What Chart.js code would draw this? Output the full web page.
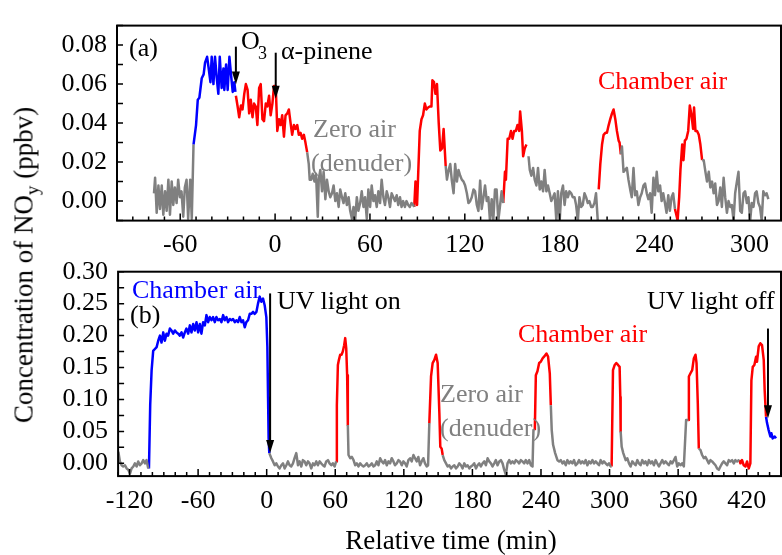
<!DOCTYPE html>
<html>
<head>
<meta charset="utf-8">
<script src="https://cdn.jsdelivr.net/npm/chart.js@4.4.0/dist/chart.umd.min.js"></script>
<style>
html, body { margin: 0; padding: 0; background: #fff; overflow: hidden; }
#wrap { position: relative; width: 782px; height: 555px; overflow: hidden; background: #fff; }
canvas { position: absolute; left: 0; }
.t { position: absolute; font-family: "Liberation Serif", "Times New Roman", serif; font-size: 26px; line-height: 26px; white-space: nowrap; color: #000; }
.gray { color: #808080; }
.red { color: #ff0000; }
.blue { color: #0000ff; }
.title { font-size: 27px; line-height: 27px; }
#ytitle sub { font-size: 19px; line-height: 0; vertical-align: -6px; }
</style>
</head>
<body>
<div id="wrap">
  <canvas id="chartA" width="790" height="262" style="top:0"></canvas>
  <canvas id="chartB" width="790" height="315" style="top:240px"></canvas>

  <div class="t" style="left:129px;top:35px">(a)</div>
  <div class="t" style="left:241px;top:28px">O</div>
  <div class="t" style="left:258px;top:44px;font-size:18px;line-height:18px">3</div>
  <div class="t" style="left:281px;top:38px">α-pinene</div>
  <div class="t gray" style="left:313px;top:116px">Zero air</div>
  <div class="t gray" style="left:311px;top:150px">(denuder)</div>
  <div class="t red" style="left:598px;top:68px">Chamber air</div>

  <div class="t blue" style="left:132px;top:277px">Chamber air</div>
  <div class="t" style="left:130px;top:302px">(b)</div>
  <div class="t" style="left:277px;top:288px">UV light on</div>
  <div class="t" style="left:647px;top:288px">UV light off</div>
  <div class="t red" style="left:518px;top:321px">Chamber air</div>
  <div class="t gray" style="left:440px;top:381px">Zero air</div>
  <div class="t gray" style="left:440px;top:415px">(denuder)</div>

  <div class="t title" style="left:451px;top:527px;transform:translateX(-50%)">Relative time (min)</div>
  <div class="t title" id="ytitle" style="left:24px;top:265px;transform:translate(-50%,-50%) rotate(-90deg)">Concentration of NO<sub>y</sub> (ppbv)</div>
</div>

<script>
// ---- data: [time (min), NOy (ppbv)] ----

// panel (a)
const zeroAirA = [
  [[-76.6,0.004],[-75.9,0.012],[-74.9,-0.006],[-73.8,0.008],[-72.8,-0.004],[-71.7,0.008],[-70.7,-0.007],[-69.6,0.005],[-68.6,-0.005],[-67.5,0.011],[-66.5,-0.007],[-65.4,0.010],[-64.4,-0.002],[-63.4,0.007],[-62.3,-0.001],[-61.3,0.011],[-60.2,0.002],[-59.2,0.005],[-58.1,-0.008],[-57.1,0.007],[-56.0,0.011],[-55.0,-0.009],[-53.7,0.011],[-52.7,-0.009],[-51.6,0.029]],
  [[20.3,0.025],[21.3,0.019],[21.9,0.011],[22.8,0.011],[23.8,0.014],[24.9,0.010],[25.9,0.014],[27.0,-0.008],[27.6,0.011],[28.6,0.016],[29.7,0.005],[30.7,0.015],[31.8,0.001],[32.8,0.011],[33.9,0.005],[34.9,0.002],[36.0,0.004],[37.0,0.008],[38.1,0.000],[39.1,0.004],[40.2,-0.003],[41.2,0.006],[42.3,0.002],[43.3,-0.001],[44.4,0.004],[45.4,-0.002],[46.5,0.002],[47.5,-0.005],[48.6,-0.009],[49.6,-0.003],[50.6,-0.010],[51.7,0.002],[52.7,-0.005],[53.8,-0.001],[54.8,0.005],[55.9,-0.003],[56.9,0.002],[58.0,-0.009],[59.0,0.006],[60.1,-0.003],[61.1,0.008],[62.2,0.000],[63.2,0.003],[64.3,-0.003],[65.3,0.005],[66.4,-0.001],[67.4,0.011],[68.5,0.002],[69.5,-0.002],[70.6,0.005],[71.6,0.002],[72.7,-0.003],[73.7,0.004],[74.8,0.002],[75.8,0.000],[76.9,0.003],[77.9,-0.002],[79.0,0.002],[80.0,-0.003],[81.0,0.000],[82.1,-0.003],[83.1,0.000],[84.2,-0.002],[85.2,-0.003],[86.3,-0.001],[87.3,-0.002],[88.0,-0.003]],
  [[107.9,0.018],[108.7,0.011],[109.8,0.016],[110.8,0.019],[111.8,0.0105],[112.9,0.004],[113.9,0.019],[115.0,0.010],[116.0,0.016],[117.1,0.013],[118.1,0.011],[119.2,0.010],[120.2,0.008],[121.3,0.004],[122.3,-0.001],[123.4,0.000],[124.4,0.002],[125.5,0.006],[126.5,0.005],[127.6,-0.002],[128.6,-0.005],[129.7,0.0105],[130.7,-0.004],[131.8,0.002],[132.8,0.008],[133.9,0.000],[134.9,0.002],[135.9,-0.010],[137.0,0.001],[138.0,-0.010],[139.1,0.006],[140.1,0.006],[141.2,-0.010],[142.2,-0.003],[143.3,0.005],[144.3,-0.001]],
  [[160.3,0.023],[161.1,0.016],[162.1,0.013],[163.2,0.017],[164.2,0.011],[165.3,0.008],[166.3,0.017],[167.4,0.006],[168.4,0.010],[169.5,0.005],[170.5,0.016],[171.6,0.005],[172.6,0.008],[173.7,0.004],[174.7,0.000],[175.8,0.002],[176.8,0.004],[177.9,-0.010],[178.9,0.005],[180.0,-0.010],[181.0,0.004],[182.1,0.008],[183.1,-0.002],[184.1,0.005],[185.2,0.002],[186.2,0.005],[187.3,0.004],[188.3,0.002],[189.4,0.002],[190.4,-0.002],[191.5,-0.010],[192.5,0.002],[193.6,-0.003],[194.6,-0.002],[195.7,0.004],[196.7,0.002],[197.8,-0.001],[198.8,0.000],[199.9,-0.003],[200.9,-0.003],[202.0,-0.001],[203.0,0.004],[204.1,-0.010]],
  [[218.7,0.024],[219.4,0.028],[220.4,0.015],[221.4,0.016],[222.5,0.017],[223.5,0.011],[224.6,0.006],[225.6,0.002],[226.7,0.017],[227.7,0.003],[228.8,0.005],[229.8,-0.002],[230.9,0.002],[231.9,0.004],[233.0,0.008],[234.0,0.009],[235.1,0.004],[236.1,0.001],[237.2,0.004],[238.2,-0.006],[239.3,0.012],[240.3,0.003],[241.4,0.015],[242.4,0.005],[243.5,0.008],[244.5,0.000],[245.5,0.004],[246.6,-0.001],[247.6,-0.006],[248.7,0.003],[249.7,-0.005],[250.8,0.002],[251.8,0.004],[252.9,-0.004]],
  [[270.1,0.021],[271.1,0.021],[272.2,0.015],[273.2,0.010],[274.3,0.015],[275.3,0.007],[276.4,0.010],[277.4,0.004],[278.4,0.009],[279.5,-0.002],[280.5,0.000],[281.6,0.007],[282.6,-0.003],[283.7,0.012],[284.7,0.002],[285.8,-0.006],[286.8,0.000],[287.9,-0.003],[288.9,-0.002],[290.0,-0.010],[291.0,0.004],[292.1,0.010],[293.1,0.015],[294.2,-0.005],[295.2,-0.006],[296.3,0.004],[297.3,0.005],[298.4,-0.001],[299.4,0.002],[300.5,-0.010],[301.5,-0.001],[302.6,-0.003],[303.6,0.004],[304.6,0.005],[305.7,-0.001],[306.7,-0.003],[307.8,-0.010],[308.8,0.005],[309.9,0.003],[310.9,0.004],[312.0,0.001]]
];
const chamberO3A = [
  [[-51.6,0.029],[-50.0,0.039],[-48.9,0.052],[-47.9,0.053],[-46.4,0.063],[-45.2,0.065],[-44.3,0.071],[-43.0,0.074],[-42.0,0.068],[-40.9,0.061],[-40.1,0.074],[-39.0,0.060],[-38.0,0.074],[-36.9,0.063],[-35.9,0.055],[-35.0,0.074],[-33.8,0.058],[-32.7,0.068],[-32.1,0.057],[-31.0,0.070],[-30.0,0.057],[-28.9,0.074],[-27.9,0.065],[-26.8,0.056],[-25.8,0.061],[-25.1,0.056]]
];
const chamberA = [
  [[-24.8,0.054],[-23.7,0.0485],[-22.7,0.043],[-21.6,0.049],[-20.6,0.047],[-19.5,0.055],[-18.5,0.060],[-17.4,0.057],[-16.4,0.045],[-15.4,0.052],[-14.3,0.043],[-13.3,0.050],[-12.2,0.0485],[-11.2,0.039],[-10.1,0.058],[-9.1,0.060],[-8.0,0.042],[-7.0,0.041],[-5.9,0.050],[-4.9,0.0485],[-3.8,0.054],[-2.8,0.044],[-1.7,0.050],[-0.7,0.059],[0.4,0.059],[1.4,0.036],[2.5,0.042],[3.5,0.039],[4.5,0.044],[5.6,0.033],[6.6,0.044],[7.7,0.045],[8.7,0.047],[9.8,0.040],[10.8,0.034],[11.9,0.039],[12.9,0.037],[14.0,0.039],[15.0,0.034],[16.1,0.035],[17.1,0.032],[18.2,0.034],[19.2,0.030],[20.3,0.025]],
  [[88.0,-0.003],[88.8,0.010],[89.8,-0.002],[91.5,0.036],[92.6,0.042],[93.6,0.044],[94.7,0.050],[95.7,0.047],[96.8,0.048],[97.8,0.0485],[98.9,0.0485],[99.5,0.062],[100.5,0.061],[101.4,0.055],[102.4,0.060],[103.5,0.040],[104.5,0.026],[105.6,0.027],[106.6,0.037],[107.9,0.018]],
  [[144.3,-0.001],[145.4,0.015],[146.0,0.011],[147.1,0.032],[148.1,0.032],[149.2,0.036],[150.2,0.032],[151.2,0.036],[152.3,0.036],[153.3,0.039],[154.4,0.036],[155.0,0.046],[156.1,0.036],[156.9,0.023],[157.9,0.027],[159.0,0.029]],
  [[204.7,0.006],[205.7,0.019],[206.8,0.029],[207.8,0.034],[208.9,0.035],[209.9,0.035],[211.0,0.039],[212.0,0.042],[213.1,0.045],[214.1,0.047],[215.2,0.042],[216.2,0.036],[217.3,0.031],[217.9,0.030],[218.7,0.024]],
  [[252.9,-0.004],[253.5,-0.006],[254.6,-0.010],[255.6,0.002],[256.4,0.016],[257.5,0.029],[258.3,0.021],[259.2,0.031],[260.2,0.032],[261.3,0.036],[262.3,0.049],[263.4,0.044],[264.4,0.037],[265.0,0.048],[265.9,0.036],[266.9,0.036],[268.0,0.034],[269.0,0.029],[270.1,0.021]]
];

// panel (b)
const zeroAirB = [
  [[-129.8,0.018],[-128.4,0.003],[-126.9,-0.003],[-125.5,-0.005],[-124.0,-0.003],[-122.5,-0.008],[-121.1,-0.010],[-119.6,-0.016],[-118.2,-0.008],[-116.7,-0.005],[-115.3,0.000],[-113.8,-0.005],[-112.4,0.003],[-110.9,-0.003],[-109.4,0.000],[-108.0,0.005],[-106.5,0.000],[-105.1,0.005],[-103.6,-0.008],[-103.0,-0.008]],
  [[2.3,0.016],[4.1,0.008],[5.5,0.003],[7.0,-0.003],[8.4,0.000],[9.9,-0.005],[11.3,-0.008],[12.8,-0.003],[14.3,0.000],[15.7,-0.008],[17.2,-0.003],[18.6,0.003],[20.1,-0.003],[21.5,-0.005],[23.0,0.000],[24.4,0.008],[25.9,0.016],[27.4,-0.003],[28.8,0.003],[30.3,-0.005],[31.7,0.005],[33.2,0.003],[34.6,-0.003],[36.1,0.003],[37.5,0.000],[39.0,-0.008],[40.5,0.000],[41.9,-0.003],[43.4,0.003],[44.8,-0.003],[46.3,0.003],[47.7,0.000],[49.2,-0.003],[50.6,-0.005],[52.1,0.003],[53.6,0.005],[55.0,0.000],[56.5,-0.003],[57.9,0.000],[59.4,-0.005],[60.8,0.003]],
  [[71.0,0.060],[71.6,0.013],[73.1,0.008],[74.5,0.010],[76.0,0.005],[77.4,-0.003],[78.9,0.000],[80.3,-0.005],[81.8,0.000],[83.2,-0.003],[84.7,-0.005],[86.2,-0.003],[87.6,0.000],[89.1,-0.005],[90.5,-0.003],[92.0,0.000],[93.4,-0.005],[94.9,-0.003],[96.3,0.003],[97.8,-0.003],[99.3,0.008],[100.7,0.003],[102.2,0.000],[103.6,0.005],[105.1,-0.003],[106.5,0.003],[108.0,0.000],[109.4,0.008],[110.9,0.003],[112.3,-0.003],[113.8,0.000],[115.3,0.005],[116.7,0.003],[118.2,-0.003],[119.6,0.003],[121.1,0.000],[122.5,-0.005],[124.0,0.005],[125.5,0.008],[126.9,0.003],[128.4,0.013],[129.8,0.008],[131.3,0.003],[132.7,0.010],[134.2,-0.003],[135.6,0.003],[137.1,0.008],[138.5,0.000],[140.0,-0.005],[141.2,-0.003],[142.3,0.063]],
  [[154.0,0.013],[155.4,0.005],[156.9,0.000],[158.3,-0.005],[159.8,-0.003],[161.3,-0.008],[162.7,-0.005],[164.2,-0.003],[165.6,-0.008],[167.1,-0.005],[168.5,0.000],[170.0,-0.003],[171.4,-0.008],[172.9,0.000],[174.3,-0.005],[175.8,-0.003],[177.3,-0.008],[178.7,-0.005],[180.2,-0.003],[181.6,0.000],[183.1,-0.008],[184.5,-0.003],[186.0,0.000],[187.4,-0.005],[188.9,0.000],[190.4,0.003],[191.8,-0.003],[193.3,0.008],[194.7,0.003],[196.2,0.000],[197.6,-0.005],[199.1,0.000],[200.5,0.005],[202.0,-0.003],[203.5,0.003],[204.9,0.005],[206.4,0.000],[207.8,-0.010],[209.3,-0.018],[210.7,0.000],[212.2,0.005],[213.6,0.000],[215.1,0.003],[216.6,0.000],[218.0,0.005],[219.5,0.003],[220.9,0.000],[222.4,0.005],[223.8,0.003],[225.3,0.000],[226.7,0.005],[228.2,0.000],[229.7,0.005],[231.1,-0.003],[232.6,-0.005],[233.4,0.052],[234.6,0.052]],
  [[248.6,0.091],[249.4,0.052],[250.6,0.029],[252.4,0.016],[254.4,0.005],[255.9,0.003],[257.3,0.005],[258.8,0.000],[260.2,0.003],[261.7,-0.003],[263.1,0.005],[264.6,0.000],[266.0,0.003],[267.5,0.000],[268.9,0.005],[270.4,-0.003],[271.9,0.000],[273.3,0.005],[274.8,0.000],[276.2,0.003],[277.7,0.000],[279.1,0.005],[280.6,-0.003],[282.0,0.003],[283.5,0.000],[285.0,0.005],[286.4,0.000],[287.9,0.003],[289.3,0.000],[290.8,-0.003],[292.2,0.005],[293.7,0.000],[295.1,0.003],[296.6,0.000],[298.1,-0.003],[299.5,0.000],[301.0,-0.005],[301.8,-0.005]],
  [[309.7,0.050],[310.6,0.026],[312.0,0.016],[314.1,0.005],[315.5,0.008],[317.0,0.000],[318.4,-0.005],[319.9,0.003],[321.3,0.000],[322.8,-0.003],[324.3,0.005],[325.7,0.000],[327.2,-0.003],[328.6,0.005],[330.1,0.000],[331.5,0.003],[333.0,-0.003],[334.4,0.005],[335.9,0.000],[337.3,0.003],[338.8,-0.003],[340.3,0.005],[341.7,0.000],[343.2,-0.005],[344.6,0.000],[346.1,0.005],[347.5,0.000],[349.0,0.003],[350.4,0.000],[351.9,-0.003],[353.4,0.003],[354.8,0.000],[356.3,0.005],[357.7,0.010],[359.2,-0.005],[360.6,0.000],[362.1,-0.003],[363.5,0.000],[365.0,-0.005],[367.0,0.068],[368.8,0.068]],
  [[378.1,0.023],[379.5,0.021],[381.0,0.013],[382.5,0.008],[383.9,0.010],[385.4,0.005],[386.8,0.000],[388.3,0.005],[389.7,0.003],[391.2,0.000],[392.7,-0.003],[394.1,-0.008],[395.6,-0.010],[397.0,-0.005],[398.5,0.000],[399.9,0.003],[401.4,0.000],[402.8,-0.003],[404.3,0.005],[405.7,0.003],[407.2,0.005],[408.7,0.000],[410.1,0.005],[411.6,0.003],[413.0,0.005],[413.6,0.005]]
];
const chamberB = [
  [[60.8,0.003],[61.4,0.091],[62.3,0.154],[63.2,0.162],[64.3,0.170],[65.5,0.170],[66.6,0.175],[67.8,0.185],[68.7,0.196],[69.6,0.180],[70.4,0.138],[71.0,0.060]],
  [[142.3,0.063],[143.8,0.136],[145.2,0.157],[146.7,0.162],[148.2,0.170],[149.6,0.157],[151.1,0.078],[151.9,0.026],[153.1,0.023],[154.0,0.013]],
  [[234.6,0.052],[235.5,0.138],[236.9,0.144],[238.4,0.157],[239.8,0.159],[241.3,0.164],[242.7,0.167],[244.8,0.172],[246.2,0.167],[247.7,0.141],[248.6,0.091]],
  [[301.8,-0.005],[303.0,0.146],[304.5,0.154],[305.9,0.157],[307.4,0.154],[308.8,0.151],[309.4,0.104],[309.7,0.050]],
  [[368.8,0.068],[369.4,0.136],[370.8,0.141],[372.3,0.146],[373.7,0.164],[375.2,0.170],[376.1,0.157],[377.2,0.094],[378.1,0.023]],
  [[413.6,0.005],[414.5,0.000],[415.9,0.005],[417.4,-0.003],[418.9,-0.005],[420.3,0.003],[421.8,-0.008],[423.2,0.000],[424.1,0.130],[425.3,0.151],[426.7,0.154],[428.2,0.167],[429.0,0.159],[430.5,0.183],[431.9,0.188],[433.4,0.185],[434.9,0.162],[435.7,0.115],[436.9,0.073]]
];
const chamberUVB = [
  [[-103.0,-0.008],[-101.9,0.092],[-100.7,0.145],[-99.3,0.176],[-97.8,0.179],[-96.3,0.182],[-94.9,0.192],[-93.4,0.200],[-92.0,0.189],[-90.5,0.205],[-89.1,0.192],[-87.6,0.203],[-86.2,0.200],[-84.7,0.211],[-83.3,0.208],[-81.8,0.203],[-80.3,0.208],[-78.9,0.205],[-77.4,0.203],[-76.0,0.200],[-74.5,0.205],[-73.1,0.197],[-71.6,0.205],[-70.2,0.211],[-68.7,0.203],[-67.2,0.216],[-65.8,0.205],[-64.3,0.218],[-62.9,0.208],[-61.4,0.221],[-60.0,0.205],[-58.5,0.218],[-57.1,0.203],[-55.6,0.221],[-54.1,0.216],[-52.7,0.232],[-51.2,0.221],[-49.8,0.229],[-48.3,0.224],[-46.9,0.229],[-45.4,0.221],[-44.0,0.229],[-42.5,0.224],[-41.0,0.226],[-39.6,0.221],[-38.1,0.232],[-36.7,0.224],[-35.2,0.229],[-33.8,0.221],[-32.3,0.226],[-30.8,0.224],[-29.4,0.226],[-27.9,0.221],[-26.5,0.224],[-25.0,0.221],[-23.6,0.229],[-22.1,0.221],[-20.7,0.224],[-19.2,0.213],[-17.8,0.221],[-16.3,0.224],[-14.8,0.234],[-13.4,0.234],[-11.9,0.237],[-10.5,0.234],[-9.0,0.237],[-7.6,0.250],[-6.1,0.261],[-4.7,0.253],[-3.2,0.258],[-1.7,0.247],[-0.3,0.229],[0.6,0.182],[1.2,0.103],[1.7,0.039],[2.3,0.016]],
  [[436.9,0.073],[437.8,0.063],[439.2,0.052],[440.7,0.042],[441.6,0.047],[442.7,0.039],[444.5,0.042],[445.6,0.039]]
];

// axis limits and tick spacing
const xLimA = [-100, 320], yLimA = [-0.01, 0.09];
const xLimB = [-130, 450], yLimB = [-0.02, 0.30];
const xMinorStep = 10, xLabelStep = 60;
const yStepA = 0.01, yLabelStepA = 0.02;
const yStepB = 0.025, yLabelStepB = 0.05;

// event arrows [time, from, to]
const arrowsA = [[-24.8, 0.0792, 0.0598], [0.4, 0.0761, 0.0525]];
const arrowsB = [[3.0, 0.266, 0.016], [438.6, 0.211, 0.0705]];

// ---- chart ----
const GRAY = '#808080', RED = '#ff0000', BLUE = '#0000ff';
Chart.defaults.font.family = '"Liberation Serif", "Times New Roman", serif';
Chart.defaults.font.size = 26;
Chart.defaults.color = '#000';

function steps(a, b, s) {
  const out = [];
  const n = Math.round((b - a) / s);
  for (let i = 0; i <= n; i++) out.push(+(a + i * s).toFixed(4));
  return out;
}
function isMult(v, s) {
  const r = v / s;
  return Math.abs(r - Math.round(r)) < 1e-6;
}

function lines(segs, color) {
  return segs.map(s => ({
    data: s, borderColor: color, borderWidth: 2.5, pointRadius: 0,
    borderJoinStyle: 'round', tension: 0, fill: false
  }));
}

// box, inward ticks and arrows
const frame = {
  id: 'frame',
  afterDatasetsDraw(chart, args, opts) {
    const { ctx, chartArea: a, scales: { x, y } } = chart;
    ctx.save();
    ctx.strokeStyle = '#000';
    ctx.fillStyle = '#000';
    ctx.lineWidth = 1.5;
    ctx.beginPath();
    x.ticks.forEach(t => {
      const px = x.getPixelForValue(t.value);
      const len = isMult(t.value, xLabelStep) ? 7 : 4;
      ctx.moveTo(px, a.bottom); ctx.lineTo(px, a.bottom - len);
    });
    y.ticks.forEach(t => {
      const py = y.getPixelForValue(t.value);
      ctx.moveTo(a.left, py); ctx.lineTo(a.left + 6, py);
    });
    ctx.stroke();
    ctx.lineWidth = 2;
    ctx.strokeRect(a.left, a.top, a.right - a.left, a.bottom - a.top);
    (opts.arrows || []).forEach(([t, v0, v1]) => {
      const px = x.getPixelForValue(t);
      const p0 = y.getPixelForValue(v0), p1 = y.getPixelForValue(v1);
      ctx.beginPath();
      ctx.moveTo(px, p0); ctx.lineTo(px, p1 - 10);
      ctx.stroke();
      ctx.beginPath();
      ctx.moveTo(px - 4, p1 - 13); ctx.lineTo(px + 4, p1 - 13); ctx.lineTo(px, p1);
      ctx.closePath();
      ctx.fill();
    });
    ctx.restore();
  }
};

function makeChart(id, datasets, xl, yl, yStep, yLabelStep, box, arrows) {
  return new Chart(document.getElementById(id), {
    type: 'line',
    data: { datasets },
    options: {
      responsive: false,
      animation: false,
      layout: { autoPadding: false, padding: { top: box.top, right: box.right, left: 0, bottom: 0 } },
      plugins: { legend: { display: false }, tooltip: { enabled: false }, frame: { arrows } },
      scales: {
        x: {
          type: 'linear', min: xl[0], max: xl[1],
          grid: { display: false, drawTicks: false },
          border: { display: false },
          afterBuildTicks: s => { s.ticks = steps(xl[0], xl[1], xMinorStep).map(v => ({ value: v })); },
          ticks: {
            autoSkip: false, maxRotation: 0, minRotation: 0, padding: 9,
            callback: v => isMult(v, xLabelStep) ? String(Math.round(v)) : ''
          },
          afterFit: s => { s.height = box.xh; }
        },
        y: {
          type: 'linear', min: yl[0], max: yl[1],
          grid: { display: false, drawTicks: false },
          border: { display: false },
          afterBuildTicks: s => {
            const first = Math.ceil(yl[0] / yStep - 1e-6) * yStep;
            s.ticks = steps(first, yl[1], yStep).filter(v => v >= yl[0] - 1e-9).map(v => ({ value: v }));
          },
          ticks: {
            autoSkip: false, padding: 10,
            callback: v => isMult(v, yLabelStep) ? Math.abs(v).toFixed(2) : ''
          },
          afterFit: s => { s.width = box.left; }
        }
      }
    },
    plugins: [frame]
  });
}

makeChart('chartA',
  [...lines(zeroAirA, GRAY), ...lines(chamberA, RED), ...lines(chamberO3A, BLUE)],
  xLimA, yLimA, yStepA, yLabelStepA,
  { top: 14.4, right: 4.9, left: 117, xh: 41.4 }, arrowsA);

makeChart('chartB',
  [...lines(zeroAirB, GRAY), ...lines(chamberB, RED), ...lines(chamberUVB, BLUE)],
  xLimB, yLimB, yStepB, yLabelStepB,
  { top: 31.7, right: 7.7, left: 118.1, xh: 78.9 }, arrowsB);
</script>
</body>
</html>
